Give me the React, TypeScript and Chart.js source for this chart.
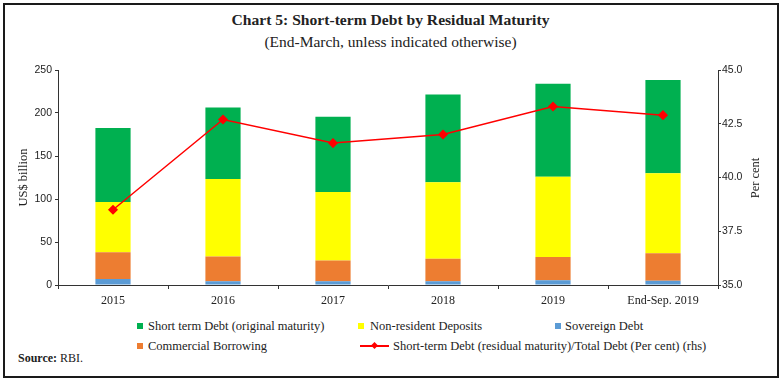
import React, { useEffect, useRef } from "react";
import { Chart, registerables } from "chart.js";

Chart.register(...registerables);

const categories = ["2015", "2016", "2017", "2018", "2019", "End-Sep. 2019"];
const sovereignDebt = [7, 4.5, 4.5, 4.5, 5.5, 5];
const commercialBorrowing = [31, 28.5, 24, 26, 27, 32];
const nonResidentDeposits = [58.5, 90.3, 79.5, 89, 93.5, 93];
const shortTermOriginal = [86, 83, 87.5, 102, 108, 108.5];
const residualShare = [38.5, 42.7, 41.6, 42.0, 43.3, 42.9];

const leftTicks = { min: 0, max: 250, step: 50 };
const rightTicks = { min: 35, max: 45, step: 2.5 };

const GREEN = "#00B050";
const YELLOW = "#FFFF00";
const BLUE = "#5B9BD5";
const ORANGE = "#ED7D31";
const RED = "#FF0000";
const AXIS = "#333333";
const SERIF = "'Liberation Serif', 'DejaVu Serif', serif";
const SANS = "'Liberation Sans', 'DejaVu Sans', sans-serif";

export default function App() {
  const canvasRef = useRef<HTMLCanvasElement | null>(null);

  useEffect(() => {
    const canvas = canvasRef.current;
    if (!canvas) return;
    const chart = new Chart(canvas, {
      type: "bar",
      data: {
        labels: categories,
        datasets: [
          {
            type: "line",
            label: "Short-term Debt (residual maturity)/Total Debt (Per cent) (rhs)",
            data: residualShare,
            yAxisID: "y1",
            borderColor: RED,
            backgroundColor: RED,
            borderWidth: 1.5,
            pointStyle: "rectRot",
            pointRadius: 4,
            pointBackgroundColor: RED,
            pointBorderColor: RED,
            order: 0,
          } as any,
          {
            label: "Sovereign Debt",
            data: sovereignDebt,
            backgroundColor: BLUE,
            stack: "s",
            yAxisID: "y",
            order: 1,
          },
          {
            label: "Commercial Borrowing",
            data: commercialBorrowing,
            backgroundColor: ORANGE,
            stack: "s",
            yAxisID: "y",
            order: 1,
          },
          {
            label: "Non-resident Deposits",
            data: nonResidentDeposits,
            backgroundColor: YELLOW,
            stack: "s",
            yAxisID: "y",
            order: 1,
          },
          {
            label: "Short term Debt (original maturity)",
            data: shortTermOriginal,
            backgroundColor: GREEN,
            stack: "s",
            yAxisID: "y",
            order: 1,
          },
        ],
      },
      options: {
        animation: false,
        responsive: false,
        maintainAspectRatio: false,
        layout: { padding: { top: 10, left: 0, right: 0, bottom: 0 } },
        plugins: {
          legend: { display: false },
          title: { display: false },
          tooltip: { enabled: false },
        },
        datasets: {
          bar: { barPercentage: 0.32, categoryPercentage: 1 },
        } as any,
        scales: {
          x: {
            stacked: true,
            offset: true,
            grid: {
              offset: true,
              drawOnChartArea: false,
              drawTicks: true,
              tickLength: 4,
              color: AXIS,
            },
            border: { display: true, color: AXIS, width: 1 },
            ticks: {
              color: "#222",
              padding: 5,
              maxRotation: 0,
              autoSkip: false,
              font: { family: SERIF, size: 12 },
            },
            afterFit: (s: any) => {
              s.height = 25;
            },
          },
          y: {
            stacked: true,
            position: "left",
            min: leftTicks.min,
            max: leftTicks.max,
            ticks: {
              stepSize: leftTicks.step,
              color: "#222",
              padding: 3,
              font: { family: SANS, size: 10.5 },
            },
            grid: {
              drawOnChartArea: false,
              drawTicks: true,
              tickLength: 3,
              color: AXIS,
            },
            border: { display: true, color: AXIS, width: 1 },
            title: {
              display: true,
              text: "US$ billion",
              color: "#222",
              font: { family: SERIF, size: 12.5 },
              padding: { top: 16, bottom: 0 },
            },
            afterFit: (s: any) => {
              s.width = 58;
            },
          },
          y1: {
            position: "right",
            min: rightTicks.min,
            max: rightTicks.max,
            ticks: {
              stepSize: rightTicks.step,
              color: "#222",
              padding: 1,
              font: { family: SANS, size: 10.5 },
              callback: (v: any) => Number(v).toFixed(1),
            },
            grid: {
              drawOnChartArea: false,
              drawTicks: true,
              tickLength: 3,
              color: AXIS,
            },
            border: { display: true, color: AXIS, width: 1 },
            afterFit: (s: any) => {
              s.width = 63;
            },
          },
        },
      },
    });
    return () => chart.destroy();
  }, []);

  const legendText: React.CSSProperties = {
    position: "absolute",
    fontFamily: SERIF,
    fontSize: 12.5,
    color: "#222",
    lineHeight: "14px",
    whiteSpace: "nowrap",
  };
  const sq = (x: number, y: number, c: string) => (
    <div
      style={{
        position: "absolute",
        left: x,
        top: y - 3,
        width: 6,
        height: 6,
        background: c,
      }}
    />
  );

  return (
    <div
      style={{
        position: "fixed",
        left: 0,
        top: 0,
        width: 781,
        height: 381,
        background: "#fff",
        overflow: "hidden",
      }}
    >
      <div
        style={{
          position: "absolute",
          left: 3,
          top: 3,
          width: 776,
          height: 375,
          boxSizing: "border-box",
          border: "2px solid #1a1a1a",
        }}
      />
      <div
        style={{
          position: "absolute",
          left: 0,
          width: 781,
          top: 11,
          textAlign: "center",
          fontFamily: SERIF,
          fontWeight: "bold",
          fontSize: 15.6,
          color: "#222",
          lineHeight: "18px",
        }}
      >
        Chart 5: Short-term Debt by Residual Maturity
      </div>
      <div
        style={{
          position: "absolute",
          left: 0,
          width: 781,
          top: 33,
          textAlign: "center",
          fontFamily: SERIF,
          fontSize: 15.5,
          color: "#222",
          lineHeight: "18px",
        }}
      >
        (End-March, unless indicated otherwise)
      </div>
      <canvas
        ref={canvasRef}
        width={781}
        height={250}
        style={{ position: "absolute", left: 0, top: 60, width: 781, height: 250 }}
      />
      <div
        style={{
          position: "absolute",
          left: 755 - 40,
          top: 178 - 8,
          width: 80,
          height: 16,
          lineHeight: "16px",
          textAlign: "center",
          transform: "rotate(-90deg)",
          fontFamily: SERIF,
          fontSize: 12.5,
          color: "#222",
        }}
      >
        Per cent
      </div>
      {sq(137, 326, GREEN)}
      <div style={{ ...legendText, left: 148, top: 319 }}>Short term Debt (original maturity)</div>
      {sq(358, 326, YELLOW)}
      <div style={{ ...legendText, left: 370, top: 319 }}>Non-resident Deposits</div>
      {sq(555, 326, BLUE)}
      <div style={{ ...legendText, left: 565, top: 319 }}>Sovereign Debt</div>
      {sq(137, 346, ORANGE)}
      <div style={{ ...legendText, left: 148, top: 339 }}>Commercial Borrowing</div>
      <div
        style={{
          position: "absolute",
          left: 360,
          top: 345,
          width: 29,
          height: 2,
          background: RED,
        }}
      />
      <div
        style={{
          position: "absolute",
          left: 372,
          top: 343,
          width: 5,
          height: 5,
          background: RED,
          transform: "rotate(45deg)",
        }}
      />
      <div style={{ ...legendText, left: 393, top: 339 }}>
        Short-term Debt (residual maturity)/Total Debt (Per cent) (rhs)
      </div>
      <div style={{ ...legendText, left: 18, top: 351, fontSize: 12 }}>
        <b>Source:</b> RBI.
      </div>
    </div>
  );
}
